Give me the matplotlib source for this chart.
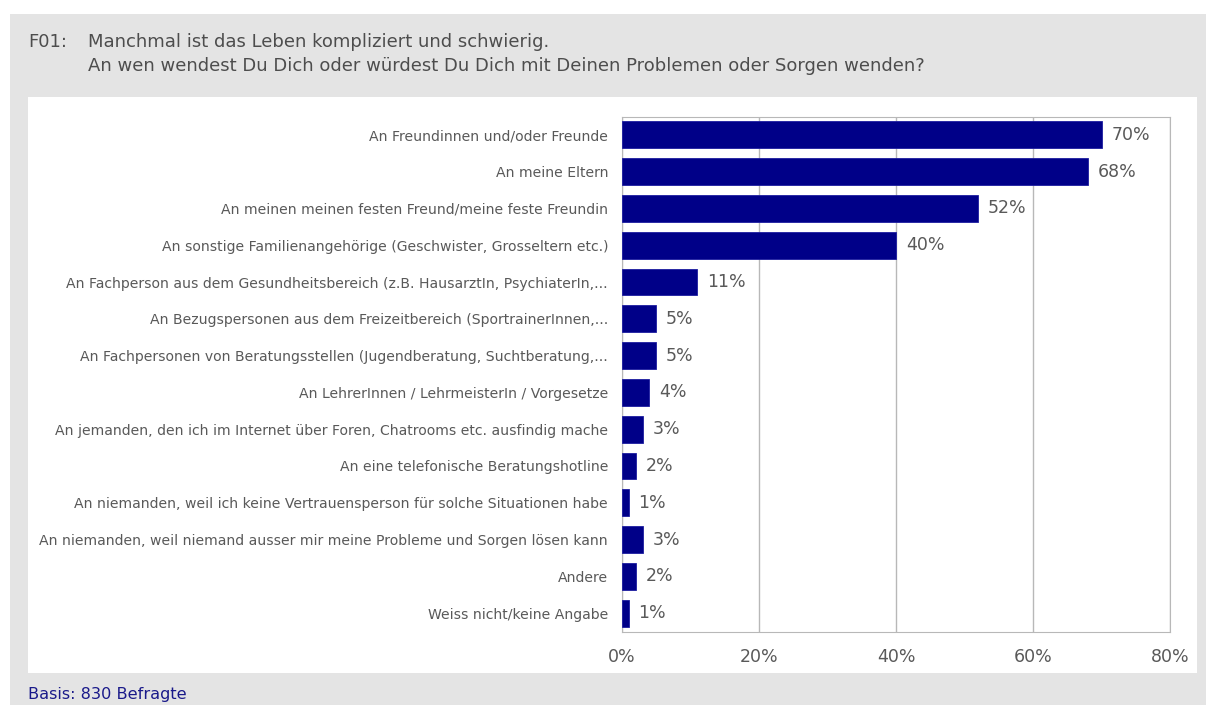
import matplotlib.pyplot as plt
from matplotlib.patches import Rectangle

labels = [
    "An Freundinnen und/oder Freunde",
    "An meine Eltern",
    "An meinen meinen festen Freund/meine feste Freundin",
    "An sonstige Familienangehörige (Geschwister, Grosseltern etc.)",
    "An Fachperson aus dem Gesundheitsbereich (z.B. HausarztIn, PsychiaterIn,...",
    "An Bezugspersonen aus dem Freizeitbereich (SportrainerInnen,...",
    "An Fachpersonen von Beratungsstellen (Jugendberatung, Suchtberatung,...",
    "An LehrerInnen / LehrmeisterIn / Vorgesetze",
    "An jemanden, den ich im Internet über Foren, Chatrooms etc. ausfindig mache",
    "An eine telefonische Beratungshotline",
    "An niemanden, weil ich keine Vertrauensperson für solche Situationen habe",
    "An niemanden, weil niemand ausser mir meine Probleme und Sorgen lösen kann",
    "Andere",
    "Weiss nicht/keine Angabe",
]
values = [70, 68, 52, 40, 11, 5, 5, 4, 3, 2, 1, 3, 2, 1]
xticks = [0, 20, 40, 60, 80]

W, H = 1206, 705
plt.rcParams['font.family'] = ['DejaVu Sans']

fig = plt.figure(figsize=(W / 100, H / 100), dpi=100, facecolor='white')


def box(x0, y0, x1, y1, color):
    # pixel coords (top-left origin) -> figure fraction
    fig.patches.append(Rectangle((x0 / W, 1 - y1 / H), (x1 - x0) / W, (y1 - y0) / H,
                                 transform=fig.transFigure, facecolor=color,
                                 edgecolor='none', zorder=0))


box(10, 14, 1206, 705, '#e4e4e4')
box(28, 97, 1197, 673, 'white')

ax = fig.add_axes([622 / W, 1 - 631.5 / H, (1170 - 622) / W, (631.5 - 116.5) / H])
ax.set_facecolor('none')
ax.set_zorder(5)

y = list(range(len(labels)))
ax.barh(y, values, height=0.73, color='#000088', edgecolor='#1c1ca0',
        linewidth=0.6, zorder=3)
for yi, v in zip(y, values):
    ax.annotate(f"{v}%", (v, yi), xytext=(7, 0), textcoords='offset points',
                va='center', ha='left', fontsize=12.5, color='#595959')

ax.set_xlim(0, 80)
ax.set_ylim(len(labels) - 0.5, -0.5)
ax.set_xticks(xticks)
ax.set_xticklabels([f"{t}%" for t in xticks], fontsize=12.5, color='#595959')
ax.set_yticks(y)
ax.set_yticklabels(labels, fontsize=10.1, color='#595959')
ax.tick_params(axis='both', length=0)
ax.tick_params(axis='y', pad=10)
ax.tick_params(axis='x', pad=12)
ax.grid(axis='x', color='#b8b8b8', linewidth=1, zorder=1)
for s in ['left', 'bottom', 'right', 'top']:
    ax.spines[s].set_color('#b8b8b8')

fig.text(28 / W, 1 - 42 / H, "F01:", fontsize=13, color='#4d4d4d', va='center')
fig.text(88 / W, 1 - 42 / H, "Manchmal ist das Leben kompliziert und schwierig.",
         fontsize=13, color='#4d4d4d', va='center')
fig.text(88 / W, 1 - 66 / H,
         "An wen wendest Du Dich oder würdest Du Dich mit Deinen Problemen oder Sorgen wenden?",
         fontsize=13, color='#4d4d4d', va='center')
fig.text(28 / W, 1 - 694 / H, "Basis: 830 Befragte", fontsize=11.6, color='#1a1a8a', va='center')

fig.savefig('out.png', dpi=100, facecolor='white')
